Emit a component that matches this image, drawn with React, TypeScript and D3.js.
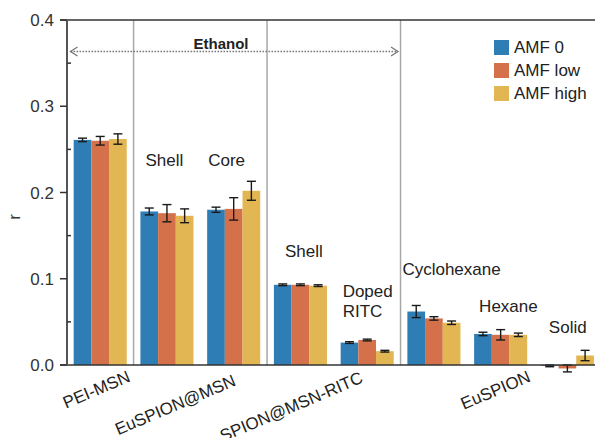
import React from "react";
import * as d3 from "d3";

// Sample groups along the x axis
const categories = [
  "PEI-MSN",
  "EuSPION@MSN Shell",
  "EuSPION@MSN Core",
  "SPION@MSN-RITC Shell",
  "SPION@MSN-RITC Doped",
  "EuSPION Cyclohexane",
  "EuSPION Hexane",
  "EuSPION Solid",
];

const seriesNames = ["AMF 0", "AMF low", "AMF high"];

// Anisotropy r per group, one array per field condition
const amf0 = [0.261, 0.178, 0.18, 0.093, 0.026, 0.062, 0.036, -0.001];
const amfLow = [0.26, 0.176, 0.181, 0.093, 0.029, 0.054, 0.035, -0.004];
const amfHigh = [0.262, 0.173, 0.202, 0.092, 0.016, 0.049, 0.035, 0.011];

// Error bar half-widths
const amf0Err = [0.002, 0.004, 0.003, 0.001, 0.001, 0.007, 0.002, 0.001];
const amfLowErr = [0.005, 0.01, 0.013, 0.001, 0.001, 0.002, 0.006, 0.004];
const amfHighErr = [0.006, 0.008, 0.011, 0.001, 0.001, 0.002, 0.002, 0.006];

const yTicks = [0, 0.1, 0.2, 0.3, 0.4];
const yMinorTicks = [0.05, 0.15, 0.25, 0.35];

// Sample labels below the axis, each anchored to a group
const sampleLabels = ["PEI-MSN", "EuSPION@MSN", "SPION@MSN-RITC", "EuSPION"];
const sampleLabelGroup = [0, 2, 4, 6];

// Labels above the bars
const noteLabels = ["Shell", "Core", "Shell", "Doped", "RITC", "Cyclohexane", "Hexane", "Solid"];
const noteLabelGroup = [1, 2, 3, 4, 4, 5, 6, 7];

const solventLabel = "Ethanol";

const colors = ["#2f7db5", "#d4704a", "#e2b652"];

const W = 595;
const H = 438;
const FONT = "'Liberation Sans', Arial, Helvetica, sans-serif";

export default function App() {
  const values = [amf0, amfLow, amfHigh];
  const errs = [amf0Err, amfLowErr, amfHighErr];

  const y = d3.scaleLinear().domain([0, 0.4]).range([365, 20]);
  const x = d3
    .scaleBand<string>()
    .domain(categories)
    .range([67, 600.6])
    .paddingInner(0.205)
    .paddingOuter(0.1);
  const xs = d3.scaleBand<string>().domain(seriesNames).range([0, x.bandwidth()]);
  const step = x.step();
  const bw = x.bandwidth();

  const sepAfter = [0, 2, 4];
  const axisX = 67;

  // placement of text relative to its group
  const sampleDx = [31, 3, -3, 31];
  const sampleY = [381, 385, 382, 381];
  const noteDx = [5, 1, 11, 2, 2, -5, 5, 8];
  const noteY = [166, 166, 257, 297, 317, 275, 312, 333];

  const arrowY = 51.5;
  const arrowL = 70.5;
  const arrowR = 398;

  return (
    <div style={{ position: "absolute", left: 0, top: 0 }}>
      <svg width={W} height={H} style={{ display: "block", background: "#fff" }} fontFamily={FONT}>
        {/* group separators */}
        {sepAfter.map((i) => {
          const sx = (x(categories[i]) as number) + bw + (step - bw) / 2;
          return (
            <line key={i} x1={sx} x2={sx} y1={y(0.4)} y2={y(0)} stroke="#a8a8a8" strokeWidth={1.5} />
          );
        })}

        {/* bars */}
        {categories.map((c, ci) => (
          <g key={c} transform={`translate(${x(c)},0)`}>
            {seriesNames.map((s, si) => {
              const v = values[si][ci];
              const bx = xs(s) as number;
              return (
                <rect
                  key={s}
                  x={bx}
                  width={xs.bandwidth()}
                  y={Math.min(y(v), y(0))}
                  height={Math.abs(y(v) - y(0))}
                  fill={colors[si]}
                />
              );
            })}
            {seriesNames.map((s, si) => {
              const v = values[si][ci];
              const e = errs[si][ci];
              const cx = (xs(s) as number) + xs.bandwidth() / 2;
              const cap = 4.5;
              return (
                <g key={s} stroke="#1a1a1a" strokeWidth={1.4}>
                  <line x1={cx} x2={cx} y1={y(v - e)} y2={y(v + e)} />
                  <line x1={cx - cap} x2={cx + cap} y1={y(v - e)} y2={y(v - e)} />
                  <line x1={cx - cap} x2={cx + cap} y1={y(v + e)} y2={y(v + e)} />
                </g>
              );
            })}
          </g>
        ))}

        {/* frame: top, baseline, y axis */}
        <line x1={60} x2={W} y1={y(0.4)} y2={y(0.4)} stroke="#333" strokeWidth={1.6} />
        <line x1={60} x2={W} y1={y(0)} y2={y(0)} stroke="#333" strokeWidth={1.6} />
        <line x1={axisX} x2={axisX} y1={y(0.4)} y2={y(0)} stroke="#555" strokeWidth={2} />

        {yTicks.map((t) => (
          <g key={t}>
            <line x1={60} x2={axisX} y1={y(t)} y2={y(t)} stroke="#333" strokeWidth={1.5} />
            <text x={54} y={y(t)} dy="0.36em" textAnchor="end" fontSize={17} fill="#333">
              {d3.format(".1f")(t)}
            </text>
          </g>
        ))}
        {yMinorTicks.map((t) => (
          <line key={t} x1={axisX} x2={axisX + 4} y1={y(t)} y2={y(t)} stroke="#333" strokeWidth={1.5} />
        ))}

        <text
          transform={`translate(20,217) rotate(-90)`}
          textAnchor="middle"
          fontSize={17}
          fill="#333"
        >
          r
        </text>

        {/* solvent arrow */}
        <g stroke="#777" strokeWidth={1.3} fill="none">
          <line x1={arrowL} x2={arrowR} y1={arrowY} y2={arrowY} strokeDasharray="1.6,1.4" />
          <polyline points={`${arrowL + 7},${arrowY - 4.5} ${arrowL},${arrowY} ${arrowL + 7},${arrowY + 4.5}`} />
          <polyline points={`${arrowR - 7},${arrowY - 4.5} ${arrowR},${arrowY} ${arrowR - 7},${arrowY + 4.5}`} />
        </g>
        <text x={221} y={49} textAnchor="middle" fontSize={15} fontWeight="bold" fill="#222">
          {solventLabel}
        </text>

        {/* labels above bars */}
        {noteLabels.map((t, i) => (
          <text
            key={i}
            x={(x(categories[noteLabelGroup[i]]) as number) + noteDx[i]}
            y={noteY[i]}
            fontSize={17}
            fill="#222"
          >
            {t}
          </text>
        ))}

        {/* sample labels */}
        {sampleLabels.map((t, i) => {
          const g = categories[sampleLabelGroup[i]];
          const lx = (x(g) as number) + bw / 2 + sampleDx[i];
          return (
            <text
              key={t}
              transform={`translate(${lx},${sampleY[i]}) rotate(-23)`}
              textAnchor="end"
              fontSize={17}
              fill="#222"
            >
              {t}
            </text>
          );
        })}

        {/* legend */}
        {seriesNames.map((s, i) => (
          <g key={s} transform={`translate(494,${40 + i * 23})`}>
            <rect width={15} height={15} fill={colors[i]} />
            <text x={20} y={13} fontSize={17} fill="#222">
              {s}
            </text>
          </g>
        ))}
      </svg>
    </div>
  );
}
